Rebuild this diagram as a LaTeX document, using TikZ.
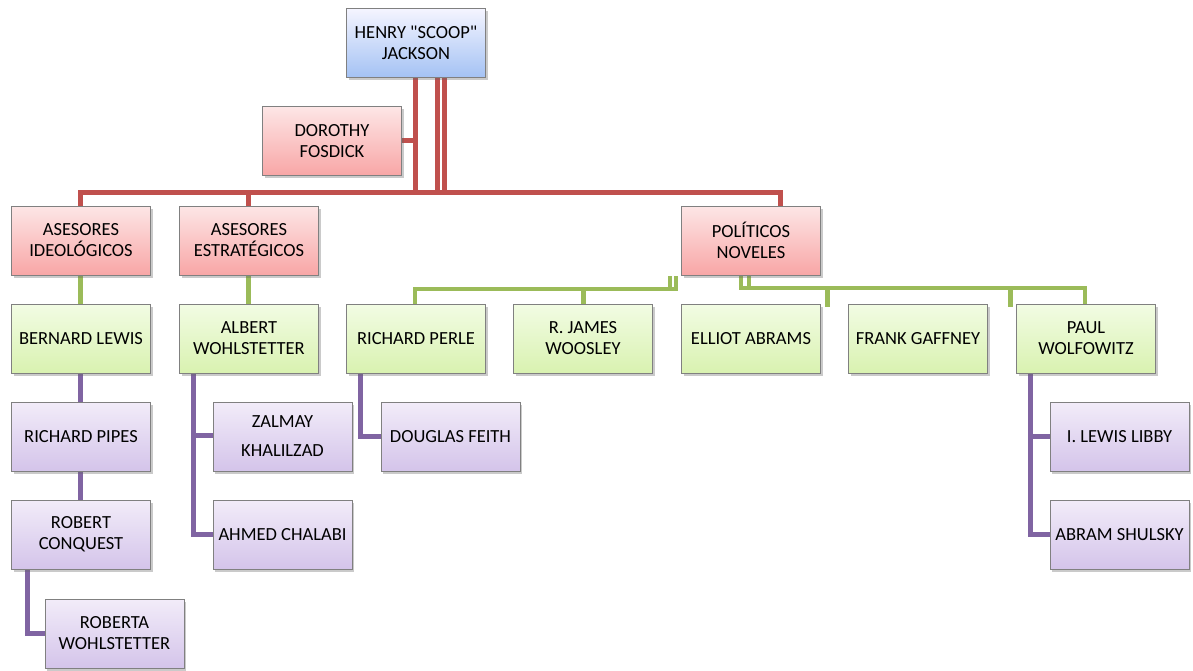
\documentclass[tikz,border=0pt]{standalone}
\usepackage{fontspec}
\setmainfont{Carlito}[Ligatures=TeXOff]
\usetikzlibrary{shadows}
\pgfdeclarelayer{background}
\pgfsetlayers{background,main}
\definecolor{redln}{HTML}{C0504D}
\definecolor{greenln}{HTML}{9BBB59}
\definecolor{purpleln}{HTML}{8064A2}
\definecolor{boxedge}{HTML}{808080}
\tikzset{
  card/.style={rectangle, draw=boxedge, line width=0.8pt, minimum width=139pt, minimum height=69pt,
    align=center, inner sep=2pt, text=black,
    font=\fontsize{18.5}{21}\selectfont,
    drop shadow={shadow xshift=2pt, shadow yshift=-2.5pt, opacity=0.35, fill=black!60}},
  bluecard/.style={card, top color=blue!4!white, bottom color={rgb,255:red,164;green,194;blue,244}},
  redcard/.style={card, top color={rgb,255:red,253;green,230;blue,230}, bottom color={rgb,255:red,248;green,166;blue,166}},
  greencard/.style={card, top color={rgb,255:red,242;green,252;blue,228}, bottom color={rgb,255:red,217;green,242;blue,176}},
  purplecard/.style={card, top color={rgb,255:red,242;green,236;blue,249}, bottom color={rgb,255:red,212;green,196;blue,234}},
  link/.style={line width=5pt, line join=miter},
  redlink/.style={link, draw=redln},
  greenlink/.style={link, draw=greenln},
  thingreen/.style={greenlink, line width=4pt},
  purplelink/.style={link, draw=purpleln},
}
\begin{document}
\begin{tikzpicture}[x=1pt,y=-1pt]
\useasboundingbox (0,0) rectangle (1193,671);

% top of the chart
\node[bluecard] (henry) at (416,43) {HENRY "SCOOP"\\JACKSON};
\node[redcard] (dorothy) at (332,141) {DOROTHY\\FOSDICK};

% second level
\node[redcard] (ideol) at (81,240.5) {ASESORES\\IDEOLÓGICOS};
\node[redcard] (estrat) at (249,240.5) {ASESORES\\ESTRATÉGICOS};
\node[redcard] (politicos) at (751,240.5) {POLÍTICOS\\NOVELES};

% third level
\node[greencard] (bernard) at (81,338.5) {BERNARD LEWIS};
\node[greencard] (albert) at (249,338.5) {ALBERT\\WOHLSTETTER};
\node[greencard] (perle) at (416,338.5) {RICHARD PERLE};
\node[greencard] (woosley) at (583,338.5) {R. JAMES\\WOOSLEY};
\node[greencard] (elliot) at (751,338.5) {ELLIOT ABRAMS};
\node[greencard] (gaffney) at (918,338.5) {FRANK GAFFNEY};
\node[greencard] (paul) at (1086,338.5) {PAUL\\WOLFOWITZ};

% lower levels
\node[purplecard] (pipes) at (81,436.5) {RICHARD PIPES};
\node[purplecard] (conquest) at (81,534.5) {ROBERT\\CONQUEST};
\node[purplecard] (roberta) at (114.5,633.5) {ROBERTA\\WOHLSTETTER};
\node[purplecard] (zalmay) at (282.5,436.5) {ZALMAY\\[8pt]KHALILZAD};
\node[purplecard] (ahmed) at (282.5,534.5) {AHMED CHALABI};
\node[purplecard] (douglas) at (450.5,436.5) {DOUGLAS FEITH};
\node[purplecard] (libby) at (1119.5,436.5) {I. LEWIS LIBBY};
\node[purplecard] (shulsky) at (1119.5,534.5) {ABRAM SHULSKY};

\coordinate (rbus) at (0,193);
\coordinate (gbusL) at (0,289);
\coordinate (gbusR) at (0,288);

\begin{pgfonlayer}{background}
% red connectors
\draw[redlink] ([xshift=-1pt]henry.south) |- (dorothy.east);
\draw[redlink] ([xshift=-1pt]henry.south) -- ([xshift=-1pt]henry.south |- rbus);
\draw[redlink] ([xshift=21pt]henry.south) -- ([xshift=21pt]henry.south |- rbus);
\draw[redlink] ([xshift=28pt]henry.south) -- ([xshift=28pt]henry.south |- rbus);
\draw[redlink] ([xshift=-1pt]ideol.north) -- ([xshift=-1pt]ideol.north |- rbus)
  -- ([xshift=29pt]politicos.north |- rbus) -- ([xshift=29pt]politicos.north);
\draw[redlink] ([xshift=-1pt]estrat.north) -- ([xshift=-1pt]estrat.north |- rbus);

% green connectors
\draw[greenlink] ([xshift=-1pt]ideol.south) -- ([xshift=-1pt]bernard.north);
\draw[greenlink] ([xshift=-1pt]estrat.south) -- ([xshift=-1pt]albert.north);
\draw[thingreen] ([xshift=-75pt,yshift=-1pt]politicos.south) -- ([xshift=-75pt]politicos.south |- gbusL)
  -- ([xshift=-1pt]perle.north |- gbusL) -- ([xshift=-1pt]perle.north);
\draw[thingreen] ([xshift=-81pt,yshift=-1pt]politicos.south) -- ([xshift=-81pt,yshift=-1pt]politicos.south |- gbusL);
\draw[greenlink] (woosley.north) -- (woosley.north |- gbusL);
\draw[thingreen] ([xshift=-10pt]politicos.south) -- ([xshift=-10pt]politicos.south |- gbusR)
  -- ([xshift=-1pt]paul.north |- gbusR) -- ([xshift=-1pt]paul.north);
\draw[thingreen] ([xshift=-2pt]politicos.south) -- ([xshift=-2pt,yshift=-1.5pt]politicos.south |- gbusR);
\draw[greenlink] ([xshift=76pt]politicos.south |- gbusR) -- ([xshift=76pt,yshift=-3pt]elliot.north);
\draw[greenlink] ([xshift=-76pt]paul.north |- gbusR) -- ([xshift=-76pt,yshift=-3pt]paul.north);

% purple connectors
\draw[purplelink] ([xshift=-1pt]bernard.south) -- ([xshift=-1pt]pipes.north);
\draw[purplelink] ([xshift=-1pt]pipes.south) -- ([xshift=-1pt]conquest.north);
\draw[purplelink] ([xshift=-54pt]conquest.south) |- (roberta.west);
\draw[purplelink] ([xshift=-56pt]albert.south) |- ([yshift=1.5pt]zalmay.west);
\draw[purplelink] ([xshift=-56pt]albert.south) |- (ahmed.west);
\draw[purplelink] ([xshift=-56pt]perle.south) |- (douglas.west);
\draw[purplelink] ([xshift=-56pt]paul.south) |- (libby.west);
\draw[purplelink] ([xshift=-56pt]paul.south) |- (shulsky.west);
\end{pgfonlayer}
\end{tikzpicture}
\end{document}
